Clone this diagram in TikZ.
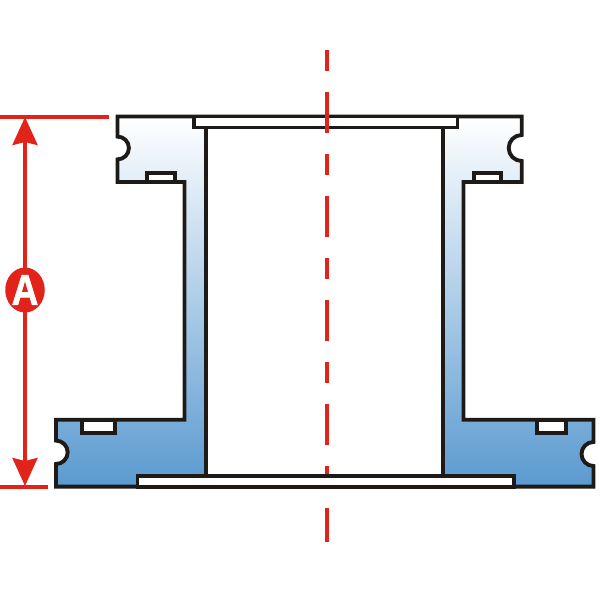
\documentclass[tikz,border=0pt]{standalone}
\usepackage{fontspec}
\setmainfont{Liberation Sans}
\newfontfamily\badgefont[FakeBold=1.5]{Liberation Sans Bold}
\usetikzlibrary{arrows.meta,shapes.geometric}
\definecolor{dimred}{HTML}{E2231A}
\definecolor{outline}{HTML}{1E1A18}
\definecolor{flangeblue}{HTML}{5A9AD0}
\tikzset{
  wall/.style={draw=outline,line width=3.9pt,miter limit=10},
  cavity/.style={wall,fill=white},
  redline/.style={draw=dimred,line width=4.2pt},
  axisline/.style={draw=dimred,line width=4.4pt,dash pattern=on 20.7pt off 21pt on 41.5pt off 20.8pt},
  dimarrow/.style={draw=dimred,line width=3.6pt,{Stealth[length=28pt,width=25pt,inset=3pt,fill=dimred]}-{Stealth[length=28pt,width=25pt,inset=3pt,fill=dimred]}},
}
\begin{document}
\begin{tikzpicture}[x=1pt,y=1pt]
\useasboundingbox (0,0) rectangle (600,600);
% flange body
\shade[top color=white,bottom color=flangeblue] (117.5,483.5) -- (521.7,483.5) -- (521.7,465)
  arc[start angle=90,end angle=270,radius=13pt] -- (521.7,418) -- (463.5,418) -- (463.5,180.2)
  -- (593.5,180.2) -- (593.5,158) arc[start angle=90,end angle=270,radius=12pt] -- (593.5,113.3)
  -- (56,113.3) -- (56,136) arc[start angle=-90,end angle=90,radius=11.7pt] -- (56,180.2)
  -- (184.5,180.2) -- (184.5,418) -- (117.5,418) -- (117.5,440.6)
  arc[start angle=-90,end angle=90,radius=11.4pt] -- cycle;
% bore
\draw[cavity] (206,478) rectangle (443,120);
% outline
\draw[wall] (117.5,483.5) -- (521.7,483.5) -- (521.7,465)
  arc[start angle=90,end angle=270,radius=13pt] -- (521.7,418) -- (463.5,418) -- (463.5,180.2)
  -- (593.5,180.2) -- (593.5,158) arc[start angle=90,end angle=270,radius=12pt] -- (593.5,113.3)
  -- (56,113.3) -- (56,136) arc[start angle=-90,end angle=90,radius=11.7pt] -- (56,180.2)
  -- (184.5,180.2) -- (184.5,418) -- (117.5,418) -- (117.5,440.6)
  arc[start angle=-90,end angle=90,radius=11.4pt] -- cycle;
% O-ring grooves
\draw[cavity] (146.7,418) rectangle (175,427.3);
\draw[cavity] (474.4,418) rectangle (501,427.3);
\draw[cavity] (82.4,180.2) rectangle (115,167.4);
\draw[cavity] (536.7,180.2) rectangle (566.3,167.4);
% top recess
\draw[cavity] (194,483.5) rectangle (457.5,472.5);
% centre axis
\coordinate (axistop) at (327,550);
\coordinate (axisbot) at (327,57.5);
\draw[axisline] (axistop) -- (axisbot);
% bottom recess
\draw[cavity] (137.5,113.3) rectangle (514,124);
% dimension
\coordinate (exttopa) at (0,483.3);
\coordinate (exttopb) at (108.5,483.3);
\coordinate (extbota) at (0,113.3);
\coordinate (extbotb) at (48,113.3);
\coordinate (dimtop) at (25,483);
\coordinate (dimbot) at (25,114);
\draw[redline] (exttopa) -- (exttopb);
\draw[redline] (extbota) -- (extbotb);
\draw[dimarrow] (dimtop) -- (dimbot);
\node[fill=dimred,ellipse,minimum width=39.5pt,minimum height=45pt,inner sep=0pt] (badge) at (25,310) {};
\node[text=white,font=\badgefont\fontsize{43}{43}\selectfont,xscale=0.86,inner sep=0pt] (letter) at (badge.center) {A};
\end{tikzpicture}
\end{document}
